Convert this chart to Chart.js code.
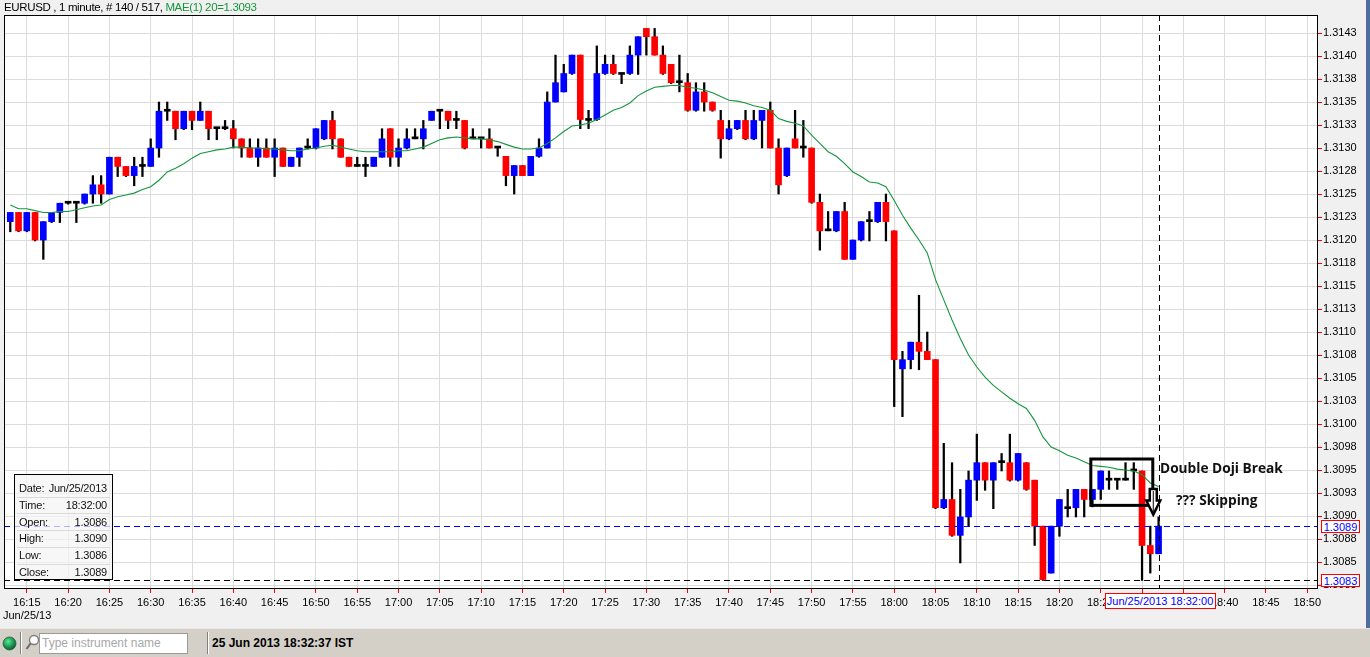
<!DOCTYPE html>
<html>
<head>
<meta charset="utf-8">
<script src="https://cdn.jsdelivr.net/npm/chart.js@4.4.0/dist/chart.umd.min.js"></script>
<style>
html,body{margin:0;padding:0;background:#f0f0f0;overflow:hidden;width:1370px;height:657px;font-family:"Liberation Sans",Arial,sans-serif;}
#c{position:absolute;left:0;top:0;}
.abs{position:absolute;white-space:nowrap;}
#header{left:4px;top:0px;font-size:11.5px;line-height:15px;color:#000;letter-spacing:-0.35px;}
#header .ma{color:#14963c;}
#status{position:absolute;left:0;top:628px;width:1370px;height:29px;background:#d4d0c8;border-top:1px solid #e8e6e0;box-sizing:border-box;}
#info{left:14px;top:474px;width:99px;height:106px;background:rgba(244,244,244,0.72);border:1px solid #000;box-sizing:border-box;font-size:11px;color:#111;}
#info .row{position:absolute;left:4px;right:5px;height:16px;line-height:16px;letter-spacing:-0.2px;}
#info .row span.v{position:absolute;right:0;}
#info .sep{position:absolute;left:2px;right:2px;height:1px;background:#dadada;}
.vbox{position:absolute;background:#fff;border:1px solid #ff0000;color:#0000ff;font-size:11px;line-height:11px;text-align:center;box-sizing:border-box;padding-top:1px;}
.note{position:absolute;font-family:"Open Sans",sans-serif;font-weight:bold;font-size:13.7px;color:#111;white-space:nowrap;}
#dateNote{position:absolute;font-size:11px;color:#000;}
</style>
</head>
<body>
<canvas id="c" width="1370" height="628"></canvas>
<div id="header" class="abs"></div>
<div id="info" class="abs"></div>
<div id="lbl1" class="vbox"></div>
<div id="lbl2" class="vbox"></div>
<div id="lbl3" class="vbox"></div>
<div id="n1" class="note">Double Doji Break</div>
<div id="n2" class="note">??? Skipping</div>
<div id="dateNote" class="abs">Jun/25/13</div>
<div id="status">
  <svg style="position:absolute;left:2px;top:7px" width="15" height="15">
    <defs><radialGradient id="g" cx="40%" cy="35%" r="65%"><stop offset="0" stop-color="#5fe39a"/><stop offset="0.6" stop-color="#1a9c52"/><stop offset="1" stop-color="#0b5e2e"/></radialGradient></defs>
    <circle cx="7.5" cy="7.5" r="6.5" fill="url(#g)" stroke="#2b5a3c" stroke-width="0.8"/>
  </svg>
  <div style="position:absolute;left:20px;top:3px;width:1px;height:22px;background:#808080;border-right:1px solid #fff;"></div>
  <svg style="position:absolute;left:25px;top:4px" width="15" height="20">
    <circle cx="9" cy="7" r="4.5" fill="#fff" stroke="#7a7a7a" stroke-width="1.3"/>
    <line x1="5.6" y1="10.4" x2="1.5" y2="16" stroke="#6a6a6a" stroke-width="2"/>
  </svg>
  <div style="position:absolute;left:39px;top:4px;width:149px;height:21px;background:#fff;border:1px solid #9a9a9a;box-sizing:border-box;font-size:12px;line-height:19px;color:#a8a8a8;padding-left:2px;">Type instrument name</div>
  <div style="position:absolute;left:207px;top:3px;width:1px;height:22px;background:#808080;border-right:1px solid #fff;"></div>
  <div id="clock" style="position:absolute;left:212px;top:7px;font-size:12px;font-weight:bold;color:#000;">25 Jun 2013 18:32:37 IST</div>
</div>
<script>
// ---------- data ----------
const symbol = 'EURUSD';
const totalBars = 517;
const startMinute = 16 * 60 + 13;   // first candle 16:13
const sessionDate = 'Jun/25/2013';

const opens = [
1.31220,1.31230,1.31210,1.31230,1.31200,1.31220,1.31230,1.31240,1.31240,1.31240,
1.31250,1.31260,1.31250,1.31290,1.31280,1.31270,1.31280,1.31280,1.31300,1.31340,
1.31340,1.31321,1.31340,1.31330,1.31340,1.31321,1.31321,1.31321,1.31310,1.31300,
1.31290,1.31300,1.31290,1.31300,1.31280,1.31290,1.31300,1.31300,1.31310,1.31330,
1.31310,1.31290,1.31280,1.31280,1.31280,1.31290,1.31321,1.31290,1.31300,1.31310,
1.31310,1.31330,1.31340,1.31340,1.31330,1.31330,1.31310,1.31310,1.31310,1.31300,
1.31291,1.31270,1.31281,1.31270,1.31291,1.31300,1.31350,1.31361,1.31381,1.31401,
1.31330,1.31331,1.31381,1.31391,1.31380,1.31381,1.31401,1.31430,1.31421,1.31401,
1.31391,1.31371,1.31371,1.31341,1.31361,1.31350,1.31330,1.31310,1.31321,1.31330,
1.31310,1.31330,1.31341,1.31300,1.31270,1.31310,1.31300,1.31300,1.31241,1.31210,
1.31210,1.31231,1.31179,1.31200,1.31220,1.31220,1.31241,1.31210,1.31060,1.31070,
1.31089,1.31079,1.31070,1.30909,1.30918,1.30879,1.30899,1.30939,1.30958,1.30939,
1.30958,1.30958,1.30939,1.30958,1.30939,1.30889,1.30838,1.30889,1.30908,1.30909,
1.30929,1.30918,1.30929,1.30939,1.30939,1.30939,1.30949,1.30949,1.30868,1.30859];
const highs = [
1.31230,1.31230,1.31230,1.31230,1.31220,1.31230,1.31240,1.31240,1.31240,1.31250,
1.31270,1.31270,1.31290,1.31290,1.31280,1.31290,1.31290,1.31310,1.31350,1.31350,
1.31340,1.31340,1.31340,1.31350,1.31340,1.31321,1.31330,1.31330,1.31310,1.31310,
1.31310,1.31310,1.31310,1.31300,1.31290,1.31300,1.31310,1.31321,1.31330,1.31340,
1.31310,1.31290,1.31290,1.31290,1.31290,1.31321,1.31321,1.31310,1.31321,1.31321,
1.31330,1.31340,1.31340,1.31340,1.31340,1.31330,1.31321,1.31310,1.31321,1.31300,
1.31291,1.31281,1.31281,1.31291,1.31310,1.31361,1.31401,1.31391,1.31401,1.31401,
1.31341,1.31411,1.31401,1.31401,1.31380,1.31411,1.31421,1.31430,1.31430,1.31411,
1.31391,1.31401,1.31381,1.31371,1.31371,1.31350,1.31341,1.31330,1.31330,1.31341,
1.31341,1.31341,1.31350,1.31310,1.31300,1.31341,1.31330,1.31300,1.31250,1.31231,
1.31231,1.31241,1.31200,1.31220,1.31231,1.31241,1.31250,1.31210,1.31079,1.31089,
1.31140,1.31100,1.31070,1.30979,1.30958,1.30929,1.30949,1.30989,1.30958,1.30958,
1.30968,1.30989,1.30968,1.30958,1.30939,1.30889,1.30889,1.30918,1.30929,1.30929,
1.30929,1.30929,1.30949,1.30949,1.30939,1.30958,1.30958,1.30949,1.30889,1.30899];
const lows = [
1.31209,1.31209,1.31209,1.31199,1.31179,1.31219,1.31219,1.31239,1.31219,1.31239,
1.31240,1.31240,1.31250,1.31269,1.31269,1.31259,1.31269,1.31280,1.31290,1.31330,
1.31309,1.31320,1.31320,1.31330,1.31309,1.31309,1.31320,1.31300,1.31290,1.31290,
1.31280,1.31290,1.31269,1.31280,1.31280,1.31280,1.31299,1.31299,1.31309,1.31299,
1.31290,1.31280,1.31280,1.31269,1.31280,1.31290,1.31280,1.31280,1.31299,1.31310,
1.31299,1.31330,1.31321,1.31321,1.31321,1.31299,1.31310,1.31300,1.31300,1.31291,
1.31259,1.31250,1.31270,1.31270,1.31290,1.31300,1.31350,1.31361,1.31380,1.31321,
1.31321,1.31330,1.31380,1.31380,1.31370,1.31380,1.31380,1.31401,1.31401,1.31380,
1.31370,1.31361,1.31340,1.31340,1.31340,1.31340,1.31289,1.31309,1.31320,1.31309,
1.31309,1.31300,1.31300,1.31250,1.31269,1.31300,1.31290,1.31240,1.31189,1.31210,
1.31209,1.31179,1.31179,1.31199,1.31199,1.31219,1.31199,1.31019,1.31008,1.31060,
1.31059,1.31070,1.30908,1.30908,1.30878,1.30849,1.30889,1.30917,1.30928,1.30908,
1.30949,1.30938,1.30938,1.30928,1.30868,1.30830,1.30838,1.30878,1.30899,1.30899,
1.30899,1.30910,1.30918,1.30929,1.30929,1.30939,1.30929,1.30830,1.30838,1.30859];
const closes = [
1.31230,1.31210,1.31230,1.31200,1.31220,1.31230,1.31240,1.31240,1.31240,1.31250,
1.31260,1.31250,1.31290,1.31280,1.31270,1.31280,1.31280,1.31300,1.31340,1.31340,
1.31321,1.31340,1.31330,1.31340,1.31321,1.31321,1.31321,1.31310,1.31300,1.31290,
1.31300,1.31290,1.31300,1.31280,1.31290,1.31300,1.31300,1.31321,1.31330,1.31310,
1.31290,1.31280,1.31280,1.31280,1.31290,1.31310,1.31290,1.31300,1.31310,1.31310,
1.31321,1.31340,1.31340,1.31330,1.31330,1.31300,1.31310,1.31310,1.31300,1.31300,
1.31270,1.31281,1.31270,1.31291,1.31300,1.31350,1.31371,1.31381,1.31401,1.31331,
1.31330,1.31381,1.31391,1.31381,1.31380,1.31401,1.31421,1.31421,1.31401,1.31381,
1.31371,1.31371,1.31341,1.31361,1.31350,1.31341,1.31310,1.31321,1.31330,1.31310,
1.31330,1.31341,1.31300,1.31260,1.31300,1.31300,1.31300,1.31241,1.31210,1.31210,
1.31231,1.31179,1.31200,1.31220,1.31220,1.31241,1.31220,1.31070,1.31070,1.31089,
1.31079,1.31070,1.30909,1.30918,1.30879,1.30899,1.30939,1.30958,1.30939,1.30958,
1.30958,1.30939,1.30968,1.30929,1.30889,1.30831,1.30889,1.30918,1.30908,1.30929,
1.30918,1.30929,1.30949,1.30939,1.30939,1.30939,1.30949,1.30868,1.30859,1.30889];
// MAE(1) 20 line at each candle
const maValues = [
1.31238,1.31234,1.31234,1.31232,1.31230,1.31230,1.31231,1.31231,1.31233,1.31235,
1.31237,1.31238,1.31244,1.31247,1.31249,1.31251,1.31255,1.31258,1.31265,1.31274,
1.31278,1.31283,1.31289,1.31294,1.31296,1.31298,1.31299,1.31301,1.31301,1.31300,
1.31300,1.31299,1.31299,1.31298,1.31297,1.31297,1.31299,1.31300,1.31302,1.31303,
1.31301,1.31299,1.31297,1.31296,1.31296,1.31296,1.31296,1.31297,1.31297,1.31299,
1.31301,1.31305,1.31309,1.31311,1.31312,1.31311,1.31310,1.31310,1.31309,1.31307,
1.31304,1.31301,1.31299,1.31299,1.31300,1.31305,1.31311,1.31318,1.31324,1.31325,
1.31327,1.31331,1.31336,1.31341,1.31344,1.31349,1.31357,1.31362,1.31366,1.31367,
1.31368,1.31368,1.31366,1.31365,1.31363,1.31360,1.31356,1.31352,1.31351,1.31349,
1.31346,1.31344,1.31341,1.31332,1.31329,1.31327,1.31324,1.31314,1.31305,1.31296,
1.31291,1.31283,1.31274,1.31269,1.31263,1.31262,1.31258,1.31243,1.31227,1.31213,
1.31200,1.31186,1.31157,1.31135,1.31113,1.31093,1.31075,1.31062,1.31051,1.31042,
1.31035,1.31028,1.31022,1.31017,1.31004,1.30986,1.30975,1.30971,1.30966,1.30963,
1.30959,1.30955,1.30954,1.30953,1.30951,1.30950,1.30949,1.30945,1.30936,1.30932];

const timeTickIdx = [2,7,12,17,22,27,32,37,42,47,52,57,62,67,72,77,82,87,92,97,102,107,112,117,122,127,132,137,142,147,152,157];
const timeLabels = ['16:15','16:20','16:25','16:30','16:35','16:40','16:45','16:50','16:55','17:00','17:05','17:10','17:15','17:20','17:25','17:30','17:35','17:40','17:45','17:50','17:55','18:00','18:05','18:10','18:15','18:20','18:25','18:30','18:35','18:40','18:45','18:50'];
const yTickValues = [1.30825,1.3085,1.30875,1.3090,1.30925,1.3095,1.30975,1.3100,1.31025,1.3105,1.31075,1.3110,1.31125,1.3115,1.31175,1.3120,1.31225,1.3125,1.31275,1.3130,1.31325,1.3135,1.31375,1.3140,1.31425];
const yTickLabels = ['1.3083','1.3085','1.3088','1.3090','1.3093','1.3095','1.3098','1.3100','1.3103','1.3105','1.3108','1.3110','1.3113','1.3115','1.3118','1.3120','1.3123','1.3125','1.3128','1.3130','1.3133','1.3135','1.3138','1.3140','1.3143'];

// ---------- view ----------
const xMin = -0.76, xMax = 158.3;
const yMin = 1.308207, yMax = 1.314446;
const UP = '#0000ff', DOWN = '#ff0000', FLAT = '#000000';
const FONT = {family: '"Liberation Sans", Arial, sans-serif', size: 11};

const n = opens.length;
const last = n - 1;
const bodyColors = opens.map((o, i) => closes[i] > o ? UP : (closes[i] < o ? DOWN : FLAT));
const lowestLow = Math.min(...lows);
const pad2 = v => String(v).padStart(2, '0');
const tOf = i => { const m = startMinute + i; return pad2(Math.floor(m / 60)) + ':' + pad2(m % 60); };

const overlay = {
  id: 'overlay',
  beforeDraw(chart) {
    const {ctx, chartArea: a} = chart;
    ctx.save();
    ctx.fillStyle = '#f0f0f0';
    ctx.fillRect(0, 0, chart.width, chart.height);
    ctx.fillStyle = '#ffffff';
    ctx.fillRect(a.left, a.top, a.right - a.left, a.bottom - a.top);
    ctx.fillStyle = '#4f6e9b';
    ctx.fillRect(chart.width - 4, 0, 4, chart.height);
    ctx.restore();
  },
  afterDatasetsDraw(chart) {
    const {ctx, chartArea: a, scales: {x, y}} = chart;
    ctx.save();
    ctx.lineWidth = 1;
    // last close line
    const yc = Math.round(y.getPixelForValue(closes[last])) + 0.5;
    ctx.setLineDash([6, 4]);
    ctx.strokeStyle = '#0000ff';
    ctx.beginPath(); ctx.moveTo(a.left, yc); ctx.lineTo(a.right, yc); ctx.stroke();
    // lowest low line
    const yl = Math.round(y.getPixelForValue(lowestLow)) + 0.5;
    ctx.strokeStyle = '#000';
    ctx.beginPath(); ctx.moveTo(a.left, yl); ctx.lineTo(a.right, yl); ctx.stroke();
    // current bar vertical
    const xl = Math.round(x.getPixelForValue(last)) + 0.5;
    ctx.beginPath(); ctx.moveTo(xl, a.top); ctx.lineTo(xl, a.bottom); ctx.stroke();
    ctx.setLineDash([]);
    // frame
    ctx.strokeStyle = '#000';
    ctx.strokeRect(a.left + 0.5, a.top + 0.5, a.right - a.left - 1, a.bottom - a.top - 1);
    // annotation rectangle around the dojis
    const bx1 = x.getPixelForValue(130.8), bx2 = x.getPixelForValue(138.3);
    const by1 = y.getPixelForValue(1.309620), by2 = y.getPixelForValue(1.309116);
    ctx.lineWidth = 3;
    ctx.strokeStyle = '#000';
    ctx.strokeRect(bx1, by1, bx2 - bx1, by2 - by1);
    // arrow
    const ax = bx2 + 0.5, at = y.getPixelForValue(1.309293), ab = y.getPixelForValue(1.309015);
    const mid = at + (ab - at) * 0.45;
    ctx.lineWidth = 2.5;
    ctx.lineJoin = 'miter';
    ctx.fillStyle = '#ffffff';
    ctx.beginPath();
    ctx.moveTo(ax - 3.5, at); ctx.lineTo(ax + 3.5, at); ctx.lineTo(ax + 3.5, mid);
    ctx.lineTo(ax + 7, mid); ctx.lineTo(ax, ab); ctx.lineTo(ax - 7, mid);
    ctx.lineTo(ax - 3.5, mid); ctx.closePath();
    ctx.fill(); ctx.stroke();
    ctx.lineWidth = 1;
    ctx.beginPath(); ctx.moveTo(ax, at + 2); ctx.lineTo(ax, ab - 3); ctx.stroke();
    ctx.restore();
  }
};

const chart = new Chart(document.getElementById('c'), {
  type: 'bar',
  data: {
    datasets: [
      {
        type: 'line', label: 'MAE(1) 20',
        data: maValues.map((v, i) => ({x: i, y: v})),
        borderColor: '#14963c', borderWidth: 1.1, pointRadius: 0, tension: 0, order: 0
      },
      {
        type: 'bar', label: 'body',
        data: opens.map((o, i) => ({x: i, y: [o, closes[i]]})),
        backgroundColor: bodyColors, borderWidth: 0, barThickness: 6, minBarLength: 2,
        grouped: false, order: 1
      },
      {
        type: 'bar', label: 'wick',
        data: lows.map((l, i) => ({x: i, y: [l, highs[i]]})),
        backgroundColor: '#000000', borderWidth: 0, barThickness: 1.6,
        grouped: false, order: 2
      }
    ]
  },
  options: {
    responsive: false, animation: false, devicePixelRatio: 1,
    layout: {padding: {left: 4, top: 15, right: 4, bottom: 0}},
    plugins: {legend: {display: false}, tooltip: {enabled: false}},
    scales: {
      x: {
        type: 'linear', min: xMin, max: xMax, offset: false,
        afterBuildTicks: ax => { ax.ticks = timeTickIdx.map(v => ({value: v})); },
        afterFit: ax => { ax.height = 39; },
        grid: {offset: false, color: '#dcdcdc', lineWidth: 1, tickColor: '#ff0000', tickLength: 4, drawTicks: true},
        border: {display: false},
        ticks: {
          autoSkip: false, maxRotation: 0, color: '#000', font: FONT, padding: 3,
          callback: v => timeLabels[timeTickIdx.indexOf(v)]
        }
      },
      y: {
        type: 'linear', position: 'right', min: yMin, max: yMax,
        afterBuildTicks: ax => { ax.ticks = yTickValues.map(v => ({value: v})); },
        afterFit: ax => { ax.width = 48; },
        grid: {color: '#dcdcdc', lineWidth: 1, tickColor: '#ff0000', tickLength: 4, drawTicks: true},
        border: {display: false},
        ticks: {
          autoSkip: false, color: '#000', font: FONT, padding: 1,
          callback: v => yTickLabels[yTickValues.findIndex(t => Math.abs(t - v) < 1e-9)]
        }
      }
    }
  },
  plugins: [overlay]
});

// ---------- HTML text overlays ----------
const xs = chart.scales.x, ys = chart.scales.y;
document.getElementById('header').innerHTML =
  symbol + ' , 1 minute, # ' + n + ' / ' + totalBars + ', <span class="ma">MAE(1) 20=' + maValues[last].toFixed(4) + '</span>';

const info = document.getElementById('info');
const rows = [['Date:', sessionDate], ['Time:', tOf(last) + ':00'], ['Open:', opens[last].toFixed(4)],
              ['High:', highs[last].toFixed(4)], ['Low:', lows[last].toFixed(4)], ['Close:', closes[last].toFixed(4)]];
let html = '';
rows.forEach((r, k) => {
  const top = 5 + k * 16.8;
  html += '<div class="row" style="top:' + top.toFixed(1) + 'px"><span>' + r[0] + '</span><span class="v">' + r[1] + '</span></div>';
  if (k < rows.length - 1) html += '<div class="sep" style="top:' + (top + 16.5).toFixed(1) + 'px"></div>';
});
info.innerHTML = html;

function placeValueBox(el, value) {
  const py = ys.getPixelForValue(value);
  el.textContent = value.toFixed(4);
  el.style.left = (ys.left + 3) + 'px';
  el.style.top = (py - 6.5) + 'px';
  el.style.width = '39px';
  el.style.height = '13px';
}
placeValueBox(document.getElementById('lbl1'), closes[last]);
placeValueBox(document.getElementById('lbl2'), lowestLow);

const lb3 = document.getElementById('lbl3');
lb3.textContent = sessionDate + ' ' + tOf(last) + ':00';
const px3 = xs.getPixelForValue(last);
lb3.style.width = '111px'; lb3.style.height = '16px';
lb3.style.left = (px3 - 54) + 'px';
lb3.style.top = (xs.top + 4) + 'px';
lb3.style.lineHeight = '13px';

const n1 = document.getElementById('n1'), n2 = document.getElementById('n2');
n1.style.left = '1160px'; n1.style.top = '458px';
n2.style.left = '1176px'; n2.style.top = '490px';
const dn = document.getElementById('dateNote');
dn.style.left = '3px'; dn.style.top = '609px';
</script>
</body>
</html>
